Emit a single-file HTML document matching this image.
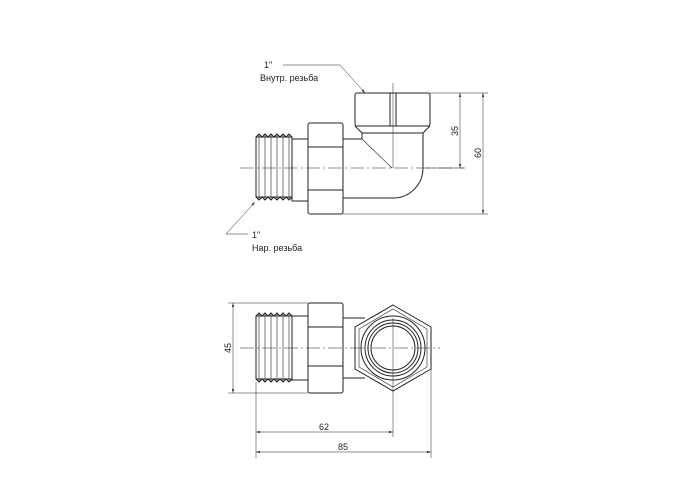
<!DOCTYPE html>
<html><head><meta charset="utf-8"><style>
html,body{margin:0;padding:0;background:#fff;}
svg{display:block;}
text{font-family:"Liberation Sans",sans-serif;font-size:9px;fill:#222;}
</style></head><body>
<svg width="700" height="500" viewBox="0 0 700 500" xmlns="http://www.w3.org/2000/svg">
<defs>
<marker id="a" viewBox="0 0 10 6" refX="10" refY="3" markerWidth="8" markerHeight="5" orient="auto-start-reverse"><path d="M0,0L10,3L0,6z" fill="#333"/></marker>
</defs>
<g stroke="#222" fill="none" stroke-width="1">
<!-- TOP VIEW -->
<!-- thread -->
<rect x="256" y="137" width="36" height="60"/>
<path d="M256,137 l3,-3 l3,3 l3,-3 l3,3 l3,-3 l3,3 l3,-3 l3,3 l3,-3 l3,3 l3,-3 l3,3" />
<path d="M256,197 l3,3 l3,-3 l3,3 l3,-3 l3,3 l3,-3 l3,3 l3,-3 l3,3 l3,-3 l3,3 l3,-3" />
<g stroke-width="0.6"><path d="M259,134V200M265,134V200M271,134V200M277,134V200M283,134V200M289,134V200"/></g>
<rect x="292" y="139" width="16" height="62"/>
<!-- hex -->
<rect x="308" y="123" width="35" height="91" rx="2"/>
<path d="M308,147H343M308,190H343"/>
<path d="M343,139H362V135"/>
<path d="M343,198H395"/>
<!-- elbow -->
<rect x="355" y="93" width="75" height="33" rx="2"/>
<path d="M390,93V126M396,93V126"/>
<path d="M355,126L362,133H423L430,126"/>
<path d="M362,133V139M423,133V168A30,30 0 0 1 395,198"/>
<path d="M362,139L392,168" stroke-width="0.6"/>
<!-- centerlines -->
<path d="M240,168H465" stroke-width="0.5" stroke-dasharray="14,3,2,3"/>
<path d="M393,83V168" stroke-width="0.5"/>
<!-- dims top -->
<g stroke-width="0.5">
<path d="M430,93H488M425,168H464M343,214H488"/>
<path d="M460,93V168" marker-start="url(#a)" marker-end="url(#a)"/>
<path d="M483,93V214" marker-start="url(#a)" marker-end="url(#a)"/>
<path d="M283,65H340L365,93" marker-end="url(#a)"/>
<path d="M248,234H226L255,202" marker-end="url(#a)"/>
</g>
<!-- BOTTOM VIEW -->
<rect x="256" y="316" width="36" height="63"/>
<path d="M256,316 l3,-3 l3,3 l3,-3 l3,3 l3,-3 l3,3 l3,-3 l3,3 l3,-3 l3,3 l3,-3 l3,3"/>
<path d="M256,379 l3,3 l3,-3 l3,3 l3,-3 l3,3 l3,-3 l3,3 l3,-3 l3,3 l3,-3 l3,3 l3,-3"/>
<g stroke-width="0.6"><path d="M259,313V382M265,313V382M271,313V382M277,313V382M283,313V382M289,313V382"/></g>
<rect x="292" y="316" width="16" height="64"/>
<rect x="308" y="303" width="35" height="90" rx="2"/>
<path d="M308,327H343M308,366H343"/>
<path d="M343,318H365M343,378H365"/>
<path d="M393,305L431,327V369L393,391L355,369V327Z"/>
<path d="M393,309L427,329V367L393,387L359,367V329Z" stroke-width="0.6"/>
<circle cx="393" cy="348" r="32"/>
<circle cx="393" cy="348" r="28"/>
<circle cx="393" cy="348" r="25"/>
<circle cx="393" cy="348" r="22"/>
<path d="M240,348H440" stroke-width="0.5" stroke-dasharray="14,3,2,3"/>
<g stroke-width="0.5">
<path d="M393,318V437M256,382V458M431,369V458M228,303H308M228,393H308"/>
<path d="M233,303V393" marker-start="url(#a)" marker-end="url(#a)"/>
<path d="M256,432H393" marker-start="url(#a)" marker-end="url(#a)"/>
<path d="M256,452H431" marker-start="url(#a)" marker-end="url(#a)"/>
</g>
</g>
<text x="264" y="68">1"</text>
<text x="260" y="81">Внутр. резьба</text>
<text x="252" y="238">1"</text>
<text x="252" y="251">Нар. резьба</text>
<text x="458" y="131" transform="rotate(-90 458 131)" text-anchor="middle">35</text>
<text x="481" y="153" transform="rotate(-90 481 153)" text-anchor="middle">60</text>
<text x="231" y="348" transform="rotate(-90 231 348)" text-anchor="middle">45</text>
<text x="324" y="430" text-anchor="middle">62</text>
<text x="343" y="450" text-anchor="middle">85</text>
</svg>
</body></html>
